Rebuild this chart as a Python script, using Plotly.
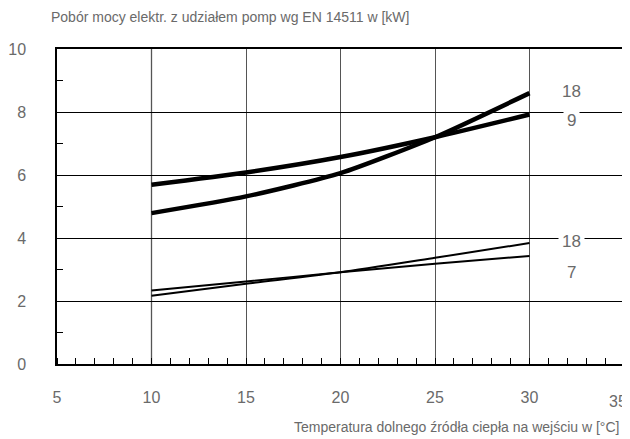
import plotly.graph_objects as go

temps = [10, 15, 20, 25, 30]
thick_18 = [4.79, 5.32, 6.06, 7.2, 8.6]
thick_9 = [5.69, 6.08, 6.57, 7.2, 7.92]
thin_18 = [2.17, 2.55, 2.91, 3.37, 3.84]
thin_7 = [2.33, 2.62, 2.91, 3.18, 3.43]

x_ticks = [5, 10, 15, 20, 25, 30]
x_last_tick = "35"

label_x = 32.2
labels = ["18", "9", "18", "7"]
label_y = [8.66, 7.74, 3.89, 2.89]

FONT = "Liberation Sans"
GREY = "#6a6a6a"

fig = go.Figure()
for ys, w in [(thick_18, 4.5), (thick_9, 4.5), (thin_18, 2), (thin_7, 2)]:
    fig.add_trace(go.Scatter(x=temps, y=ys, mode="lines",
                             line=dict(color="black", width=w, shape="spline", smoothing=0.6),
                             showlegend=False, hoverinfo="skip"))

for t, yv in zip(labels, label_y):
    fig.add_annotation(x=label_x, y=yv, text=t, showarrow=False,
                       font=dict(size=17, color=GREY, family=FONT),
                       bgcolor="white", borderpad=3)

fig.add_annotation(xref="paper", yref="paper", x=-0.014, y=1.103, xanchor="left", yanchor="middle",
                   text="Pobór mocy elektr. z udziałem pomp wg EN 14511 w [kW]", showarrow=False,
                   font=dict(size=14, color=GREY, family=FONT))
fig.add_annotation(xref="paper", yref="paper", x=0.995, y=-0.2, xanchor="right", yanchor="middle",
                   text="Temperatura dolnego źródła ciepła na wejściu w [°C]", showarrow=False,
                   font=dict(size=14, color=GREY, family=FONT))
# last x tick label, kept inside the page edge
fig.add_annotation(xref="paper", yref="paper", x=1.0085, y=-0.118, xanchor="right", yanchor="middle",
                   text=x_last_tick, showarrow=False,
                   font=dict(size=16, color=GREY, family=FONT))

fig.update_xaxes(range=[5, 35], tickvals=x_ticks, showgrid=True, gridcolor="#555555", gridwidth=1,
                 showline=True, linecolor="black", linewidth=1.5, mirror=True,
                 ticks="", ticklabelstandoff=18, zeroline=False, automargin=False,
                 ticklabeloverflow="allow",
                 tickfont=dict(size=16, color=GREY, family=FONT),
                 minor=dict(ticks="inside", dtick=1, ticklen=6, tickcolor="black", tickwidth=1))
fig.update_yaxes(range=[0, 10], dtick=2, showgrid=True, gridcolor="black", gridwidth=1,
                 showline=True, linecolor="black", linewidth=1.5, mirror=True,
                 ticks="", ticklabelstandoff=26, zeroline=False, automargin=False,
                 ticklabeloverflow="allow",
                 tickfont=dict(size=16, color=GREY, family=FONT),
                 minor=dict(ticks="inside", dtick=1, ticklen=6, tickcolor="black", tickwidth=1))

fig.add_shape(type="line", x0=10, x1=10, y0=0, y1=10, line=dict(color="black", width=1.2), layer="below")

fig.update_layout(width=622, height=431, margin=dict(l=49, r=6, t=41, b=75),
                  plot_bgcolor="white", paper_bgcolor="white")
fig.write_html("out.html")
